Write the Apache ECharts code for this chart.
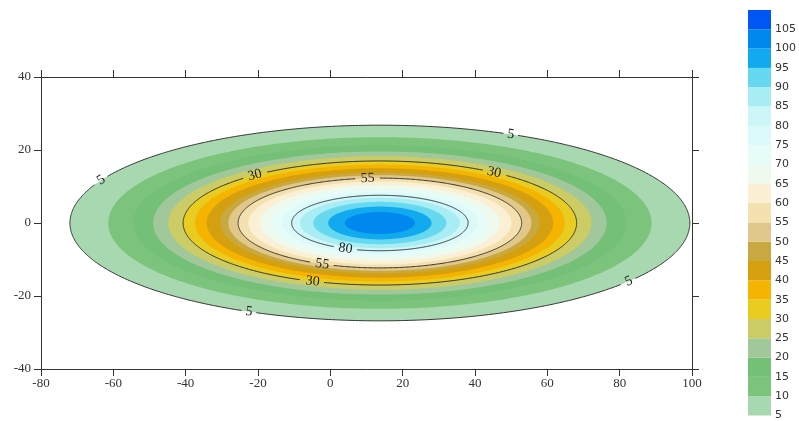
<!DOCTYPE html>
<html>
<head>
<meta charset="utf-8">
<script src="https://cdn.jsdelivr.net/npm/echarts@6/dist/echarts.min.js"></script>
<style>html,body{margin:0;padding:0;background:#fff}#c{width:799px;height:421px}</style>
</head>
<body>
<div id="c"></div>
<script>
// ---- data ----
const levels = [5,10,15,20,25,30,35,40,45,50,55,60,65,70,75,80,85,90,95,100,105];
// colour of the band [level, level+5)
const bandColors = ['#a8d8b0','#7cc47c','#74c076','#a0c89a','#cccc66','#e8cc20','#f5b400','#d4a010','#c8a840','#e0c88a','#f5e0b0','#fbf0d4','#eefaee','#e6fcf8','#dcfafa','#ccf6f8','#a8ecf4','#66d8f0','#11aaee','#0088ee','#0055f5'];
// contour ellipse of each level: centre x, half width, half height (data units)
const centerX = 13.7;
const halfWidths  = [85.7,75.1,68.2,62.7,58.5,54.4,51.1,47.9,44.2,41.9,39.2,36.4,33.2,29.9,27.1,24.4,22.1,18.4,14.3,9.7];
const halfHeights = [26.8,23.5,21.3,19.6,18.3,17.0,16.0,15.0,13.8,13.1,12.3,11.4,10.4,9.3,8.5,7.6,6.9,5.8,4.5,3.0];
// labelled contour lines
const lineLevels = [5,30,55,80];
const lineLabelAngles = [[154,65,-36.6,-115],[129.5,54.5,-110],[95,-114],[-113]];
const xTicks = [-80,-60,-40,-20,0,20,40,60,80,100];
const yTicks = [-40,-20,0,20,40];

const chart = echarts.init(document.getElementById('c'), null, {renderer:'canvas'});

const bandData = halfWidths.map((a,i)=>[centerX, a, halfHeights[i], i]);
const lineData = lineLevels.map((lv,j)=>{const i=levels.indexOf(lv);return [centerX, halfWidths[i], halfHeights[i], lv, j];});
const barData = levels.map((lv,i)=>[0, lv, lv+5, i]);

function ellipsePts(api, cx, a, b, n){
  const pts=[];
  for(let k=0;k<n;k++){const t=2*Math.PI*k/n;pts.push(api.coord([cx+a*Math.cos(t), b*Math.sin(t)]));}
  return pts;
}
function renderBand(params, api){
  const cx=api.value(0), a=api.value(1), b=api.value(2), idx=api.value(3);
  return {type:'polygon', shape:{points:ellipsePts(api,cx,a,b,360)}, style:{fill:bandColors[idx], stroke:null}};
}
function renderLine(params, api){
  const cx=api.value(0), a=api.value(1), b=api.value(2), lv=api.value(3), j=api.value(4);
  const N=720;
  const pts=ellipsePts(api,cx,a,b,N);
  const txt=String(lv);
  const rad=txt.length*4.2+3;
  const labels=lineLabelAngles[j].map(deg=>{
    const t=deg*Math.PI/180;
    const p=api.coord([cx+a*Math.cos(t), b*Math.sin(t)]);
    const p1=api.coord([cx+a*Math.cos(t-0.01), b*Math.sin(t-0.01)]);
    const p2=api.coord([cx+a*Math.cos(t+0.01), b*Math.sin(t+0.01)]);
    let ang=Math.atan2(-(p2[1]-p1[1]), p2[0]-p1[0]);
    if(ang>Math.PI/2) ang-=Math.PI; if(ang<-Math.PI/2) ang+=Math.PI;
    return {p, ang};
  });
  const keep=pts.map(q=>labels.every(L=>Math.hypot(q[0]-L.p[0],q[1]-L.p[1])>rad));
  let start=keep.indexOf(false); if(start<0) start=0;
  const children=[];
  let seg=[];
  for(let k=0;k<=N;k++){
    const idx=(start+k)%N;
    if(keep[idx]){seg.push(pts[idx]);}
    else {if(seg.length>1) children.push({type:'polyline',shape:{points:seg},style:{stroke:'#333',lineWidth:1,fill:null}}); seg=[];}
  }
  if(seg.length>1) children.push({type:'polyline',shape:{points:seg},style:{stroke:'#333',lineWidth:1,fill:null}});
  labels.forEach(L=>{
    children.push({type:'text', x:L.p[0], y:L.p[1], rotation:L.ang,
      style:{text:txt, fill:'#222', font:'14px "Liberation Serif"', align:'center', verticalAlign:'middle'}});
  });
  return {type:'group', children};
}
function renderBar(params, api){
  const lo=api.coord([0, api.value(1)]), hi=api.coord([1, api.value(2)]);
  return {type:'rect', shape:{x:lo[0], y:hi[1], width:hi[0]-lo[0], height:lo[1]-hi[1]}, style:{fill:bandColors[api.value(3)]}};
}

const axisFont = {fontFamily:'Liberation Serif', fontSize:13, color:'#333'};
const lineStyle = {color:'#333', width:1};
chart.setOption({
  animation:false,
  grid:[{left:41, top:77, width:651, height:292, show:false},
        {left:748, top:10, width:25, height:407, show:false}],
  xAxis:[
    {gridIndex:0, type:'value', position:'bottom', min:-80, max:100, interval:20,
     axisLine:{show:true, onZero:false, lineStyle}, axisTick:{show:true, length:7, lineStyle},
     axisLabel:Object.assign({margin:8, formatter:v=>xTicks.includes(v)?String(v):''}, axisFont), splitLine:{show:false}},
    {gridIndex:0, type:'value', position:'top', min:-80, max:100, interval:20,
     axisLine:{show:true, onZero:false, lineStyle}, axisTick:{show:true, length:7, lineStyle},
     axisLabel:{show:false}, splitLine:{show:false}},
    {gridIndex:1, type:'value', min:0, max:1, show:false}
  ],
  yAxis:[
    {gridIndex:0, type:'value', position:'left', min:-40, max:40, interval:20,
     axisLine:{show:true, onZero:false, lineStyle}, axisTick:{show:true, length:7, lineStyle},
     axisLabel:Object.assign({margin:10, formatter:v=>yTicks.includes(v)?String(v):''}, axisFont), splitLine:{show:false}},
    {gridIndex:0, type:'value', position:'right', min:-40, max:40, interval:20,
     axisLine:{show:true, onZero:false, lineStyle}, axisTick:{show:true, length:7, lineStyle},
     axisLabel:{show:false}, splitLine:{show:false}},
    {gridIndex:1, type:'value', position:'right', min:5, max:110, interval:5,
     axisLine:{show:false}, axisTick:{show:false}, splitLine:{show:false},
     axisLabel:{show:true, margin:4, fontFamily:'DejaVu Sans', fontSize:11, color:'#333',
       verticalAlign:'middle', verticalAlignMinLabel:'middle', verticalAlignMaxLabel:'middle',
       padding:[4,0,0,0],
       formatter:v=>levels.includes(v)?String(v):''}}
  ],
  series:[
    {type:'custom', xAxisIndex:0, yAxisIndex:0, renderItem:renderBand, data:bandData, silent:true},
    {type:'custom', xAxisIndex:0, yAxisIndex:0, renderItem:renderLine, data:lineData, silent:true},
    {type:'custom', xAxisIndex:2, yAxisIndex:2, renderItem:renderBar, data:barData, silent:true}
  ]
});
</script>
</body>
</html>
